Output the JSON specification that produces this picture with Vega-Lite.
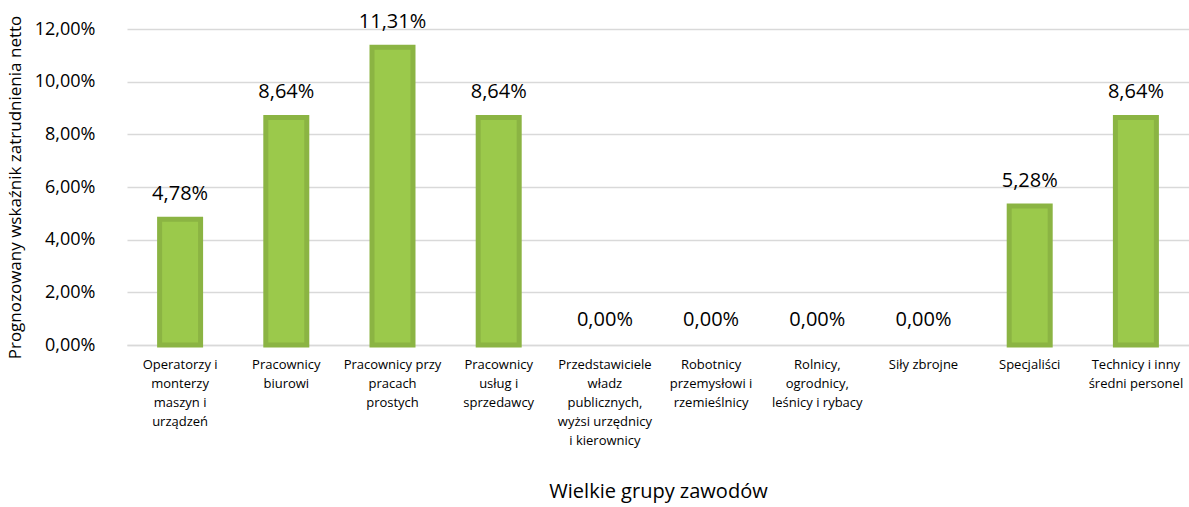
{
  "$schema": "https://vega.github.io/schema/vega-lite/v6.json",
  "autosize": "none",
  "width": 1062,
  "height": 316,
  "padding": {"left": 127, "top": 29, "right": 0, "bottom": 162},
  "background": "white",
  "config": {
    "locale": {"number": {"decimal": ",", "thousands": " ", "grouping": [3], "currency": ["", " zł"]}},
    "font": "Open Sans",
    "view": {"stroke": null}
  },
  "data": {
    "values": [
      {"grupa": "Operatorzy i\nmonterzy\nmaszyn i\nurządzeń", "wskaznik": 0.0478},
      {"grupa": "Pracownicy\nbiurowi", "wskaznik": 0.0864},
      {"grupa": "Pracownicy przy\npracach\nprostych", "wskaznik": 0.1131},
      {"grupa": "Pracownicy\nusług i\nsprzedawcy", "wskaznik": 0.0864},
      {"grupa": "Przedstawiciele\nwładz\npublicznych,\nwyżsi urzędnicy\ni kierownicy", "wskaznik": 0.0},
      {"grupa": "Robotnicy\nprzemysłowi i\nrzemieślnicy", "wskaznik": 0.0},
      {"grupa": "Rolnicy,\nogrodnicy,\nleśnicy i rybacy", "wskaznik": 0.0},
      {"grupa": "Siły zbrojne", "wskaznik": 0.0},
      {"grupa": "Specjaliści", "wskaznik": 0.0528},
      {"grupa": "Technicy i inny\nśredni personel", "wskaznik": 0.0864}
    ]
  },
  "encoding": {
    "x": {
      "field": "grupa",
      "type": "nominal",
      "sort": [
        "Operatorzy i\nmonterzy\nmaszyn i\nurządzeń",
        "Pracownicy\nbiurowi",
        "Pracownicy przy\npracach\nprostych",
        "Pracownicy\nusług i\nsprzedawcy",
        "Przedstawiciele\nwładz\npublicznych,\nwyżsi urzędnicy\ni kierownicy",
        "Robotnicy\nprzemysłowi i\nrzemieślnicy",
        "Rolnicy,\nogrodnicy,\nleśnicy i rybacy",
        "Siły zbrojne",
        "Specjaliści",
        "Technicy i inny\nśredni personel"
      ],
      "scale": {"paddingInner": 0.614, "paddingOuter": 0.307},
      "axis": {
        "title": "Wielkie grupy zawodów",
        "titleFont": "Open Sans",
        "titleFontSize": 20,
        "titleFontWeight": "normal",
        "titleColor": "#000000",
        "titlePadding": 34,
        "labelExpr": "split(datum.label, '\\n')",
        "labelAngle": 0,
        "labelFontSize": 13,
        "labelLineHeight": 19,
        "labelColor": "#000000",
        "labelBaseline": "top",
        "labelPadding": 13,
        "labelLimit": 0,
        "ticks": false,
        "domainColor": "#D9D9D9",
        "domainWidth": 1.5
      }
    },
    "y": {
      "field": "wskaznik",
      "type": "quantitative",
      "scale": {"domain": [0, 0.12]},
      "axis": {
        "title": "Prognozowany wskaźnik zatrudnienia netto",
        "titleFont": "Open Sans",
        "titleFontSize": 17,
        "titleFontWeight": "normal",
        "titleColor": "#000000",
        "titlePadding": 10,
        "format": ".2%",
        "values": [0, 0.02, 0.04, 0.06, 0.08, 0.1, 0.12],
        "labelFontSize": 18,
        "labelColor": "#000000",
        "labelPadding": 32,
        "ticks": false,
        "domain": false,
        "gridColor": "#D9D9D9",
        "gridWidth": 1.5
      }
    }
  },
  "layer": [
    {
      "transform": [{"filter": "datum.wskaznik > 0"}],
      "mark": {"type": "bar", "fill": "#9BC94B", "stroke": "#8BB443", "strokeWidth": 5}
    },
    {
      "mark": {"type": "text", "fontSize": 20, "baseline": "alphabetic", "dy": -19, "color": "#000000"},
      "encoding": {
        "text": {"field": "wskaznik", "type": "quantitative", "format": ".2%"}
      }
    }
  ]
}
